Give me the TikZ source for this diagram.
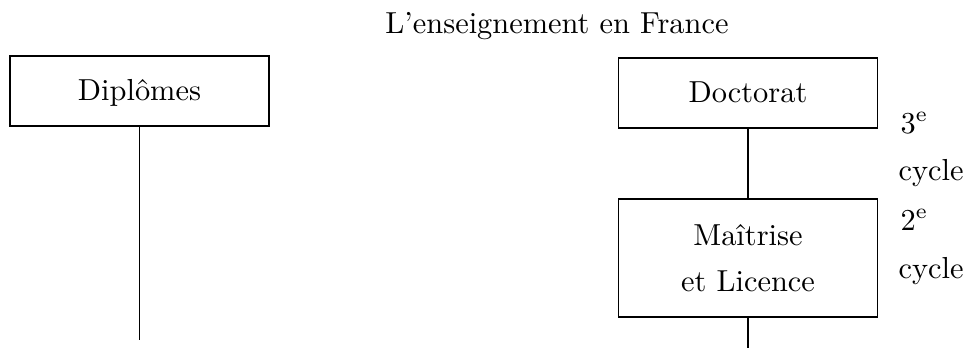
\documentclass[tikz,border=0pt]{standalone}
\usepackage{fontspec}
\begin{document}
\begin{tikzpicture}[
  x=0.32895pt, y=-0.32895pt,
  frame/.style={draw, line width=0.6pt, minimum width=85.2pt, inner sep=0pt},
  box/.style={frame, minimum height=23pt, text height=7pt, text depth=1pt},
  tallbox/.style={frame, minimum height=38.8pt, align=center},
  link/.style={line width=0.6pt},
  side/.style={anchor=base west, inner sep=0pt}
]
\useasboundingbox (0,0) rectangle (966,348);

% heading
\node[anchor=base, inner sep=0pt] (title) at (557,33) {L'enseignement en France};

% left column
\node[box] (dipl) at (139.5,91) {Diplômes};
\coordinate (dend) at (139.5,340);
\draw[link] (dipl.south) -- (dend);

% right column
\node[box] (doct) at (748,93) {Doctorat};
\node[tallbox] (mait) at (748,258) {Maîtrise\\[3pt]et Licence};
\coordinate (mend) at (748,348);
\draw[link] (doct) -- (mait);
\draw[link] (mait.south) -- (mend);

% cycle labels
\node[side] (n3) at (900,133) {3\textsuperscript{e}};
\node[side] (cy3) at (898,180) {cycle};
\node[side] (n2) at (900,230) {2\textsuperscript{e}};
\node[side] (cy2) at (898,278) {cycle};
\end{tikzpicture}
\end{document}
